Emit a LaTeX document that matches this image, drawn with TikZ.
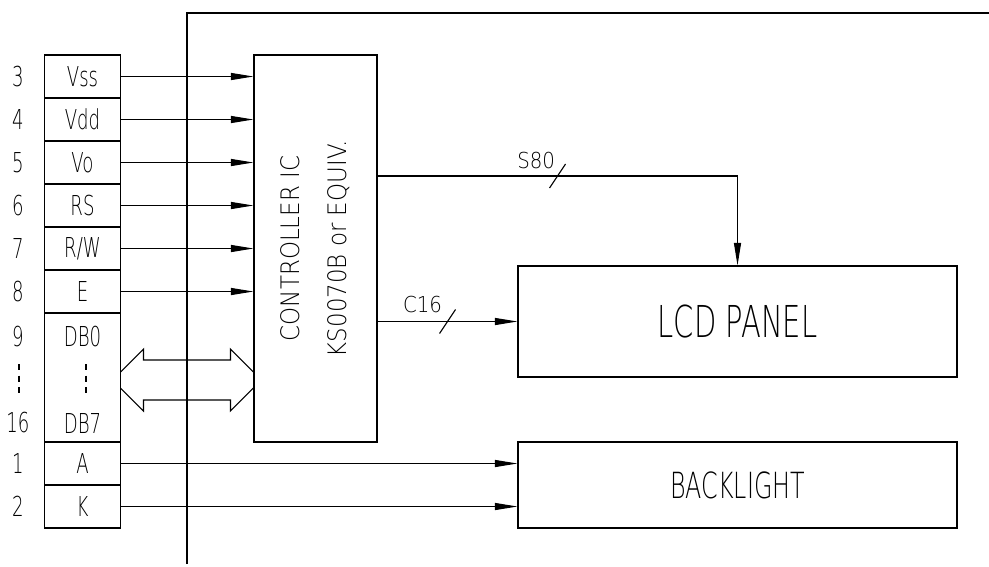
\documentclass[tikz,border=0pt]{standalone}
\usepackage{fontspec}
\IfFontExistsTF{DejaVu Sans ExtraLight}{%
	\newfontfamily\isofont{DejaVu Sans ExtraLight}[FakeStretch=0.66]
	\newfontfamily\isowide{DejaVu Sans ExtraLight}[FakeStretch=0.9]
}{%
	\newfontfamily\isofont{Liberation Sans}[FakeStretch=0.71]
	\newfontfamily\isowide{Liberation Sans}[FakeStretch=0.97]
}
\usetikzlibrary{positioning, arrows.meta, calc}
\tikzset{
	>={Triangle[length=4.5mm, width=1.4mm]}, % long narrow heads as in the data sheet
	sig/.style={->}, % one signal line
	pin/.style={draw, outer sep=0pt, inner sep=0pt, minimum width=15.2mm, minimum height=8.6mm, font=\isofont\fontsize{15.6}{18}\selectfont}, % one row of the pin table
	pinno/.style={inner sep=0pt, font=\isofont\fontsize{15.6}{18}\selectfont}, % pin numbers
	block/.style={draw, inner sep=0pt, minimum width=87.8mm}, % LCD panel and backlight
	ctrltext/.style={rotate=90, align=center, inner sep=0pt, font=\isowide\fontsize{14.5}{26.7}\selectfont},
	buslabel/.style={inner sep=0pt, font=\isowide\fontsize{12.5}{15}\selectfont}, % bus widths
	dots/.style={dash pattern=on 1.2mm off 1.1mm}, % the vertical ellipsis
}

\begin{document}
\begin{tikzpicture}[x=0.2mm, y=-0.2mm, line width=0.6pt]
	\useasboundingbox (0,0) rectangle (989,566);
	% module outline
	\draw (187,564) -- (187,13) -- (989,13);
	% pin table
	\node[pin] (vss) at (82.5,76.5) {Vss};
	\node[pin, below=0pt of vss] (vdd) {Vdd};
	\node[pin, below=0pt of vdd] (vo) {Vo};
	\node[pin, below=0pt of vo] (rs) {RS};
	\node[pin, below=0pt of rs] (rw) {R/W};
	\node[pin, below=0pt of rw] (e) {E};
	\node[pin, below=0pt of e, minimum height=25.8mm] (db) {};
	\node[pin, below=0pt of db] (a) {A};
	\node[pin, below=0pt of a] (k) {K};
	\node[pinno] (db0) at (82.5,337) {DB0};
	\node[pinno] (db7) at (82.5,423) {DB7};
	\draw[dots] (86,364) -- (86,393);
	% pin numbers
	\node[pinno] (n3) at (18,76.5) {3};
	\node[pinno] (n4) at (18,119.5) {4};
	\node[pinno] (n5) at (18,162.5) {5};
	\node[pinno] (n6) at (18,205.5) {6};
	\node[pinno] (n7) at (18,248.5) {7};
	\node[pinno] (n8) at (18,291.5) {8};
	\node[pinno] (n9) at (18,337) {9};
	\node[pinno] (n16) at (18,423) {16};
	\node[pinno] (n1) at (18,463.5) {1};
	\node[pinno] (n2) at (18,506.5) {2};
	\draw[dots] (19,364) -- (19,393);
	% controller
	\node[draw, inner sep=0pt, minimum width=24.6mm, minimum height=77.4mm] (ctrl) at (315.5,248.5) {};
	\node[ctrltext] (ctrllabel) at (ctrl.center) {CONTROLLER IC\\KS0070B or EQUIV.};
	\draw (vss.east) edge[sig] (vss.east -| ctrl.west)
		(vdd.east) edge[sig] (vdd.east -| ctrl.west)
		(vo.east) edge[sig] (vo.east -| ctrl.west)
		(rs.east) edge[sig] (rs.east -| ctrl.west)
		(rw.east) edge[sig] (rw.east -| ctrl.west)
		(e.east) edge[sig] (e.east -| ctrl.west);
	% data bus, both ways
	\coordinate (dbl) at ($(db.east)+(0,2.5)$);
	\coordinate (dbr) at (dbl -| ctrl.west);
	\draw ($(dbl)+(0,-8)$) -- ($(dbl)+(23,-31)$) -- ($(dbl)+(23,-20)$) -- ($(dbr)+(-23,-20)$) -- ($(dbr)+(-23,-31)$) -- ($(dbr)+(0,-8)$);
	\draw ($(dbl)+(0,8)$) -- ($(dbl)+(23,31)$) -- ($(dbl)+(23,20)$) -- ($(dbr)+(-23,20)$) -- ($(dbr)+(-23,31)$) -- ($(dbr)+(0,8)$);
	% panel and backlight
	\node[block, minimum height=22.2mm, font=\isofont\fontsize{25}{30}\selectfont] (lcd) at (737.5,321.5) {LCD PANEL};
	\node[block, minimum height=17.2mm, font=\isofont\fontsize{20.5}{25}\selectfont] (bl) at (737.5,485) {BACKLIGHT};
	% segment and common lines
	\coordinate (s80) at ($(ctrl.east)+(0,-72.5)$);
	\draw[sig] (s80) -| (lcd.north);
	\coordinate (s80tick) at ($(s80)+(180,0)$);
	\draw (s80tick) ++(-8,12) -- ++(16,-24);
	\node[buslabel, above left=1.4mm and 0.4mm of s80tick] (s80label) {S80};
	\draw[sig] (ctrl.east |- lcd.west) -- (lcd.west);
	\coordinate (c16tick) at ($(ctrl.east |- lcd.west)+(70,0)$);
	\draw (c16tick) ++(-8,12) -- ++(16,-24);
	\node[buslabel, above left=1.6mm and 1mm of c16tick] (c16label) {C16};
	% backlight supply
	\draw (a.east) edge[sig] (a.east -| bl.west)
		(k.east) edge[sig] (k.east -| bl.west);
\end{tikzpicture}
\end{document}
